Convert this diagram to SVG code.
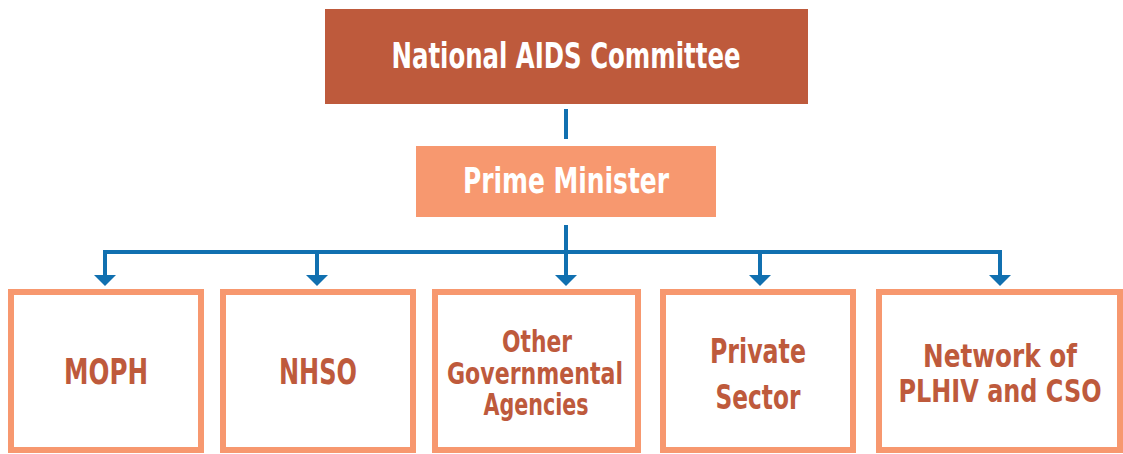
<svg xmlns="http://www.w3.org/2000/svg" width="1123" height="454" viewBox="0 0 1123 454">
<style>
.t{font-family:"DejaVu Sans Condensed","DejaVu Sans","Liberation Sans",sans-serif;font-weight:bold;text-anchor:middle}
.w{fill:#ffffff}
.r{fill:#BE5A3C}
.box{fill:#ffffff;stroke:#F7986F;stroke-width:6}
.ln{fill:none;stroke:#1170B0;stroke-width:4}
.ah{fill:#1170B0}
</style>
<g id="connectors">
<line class="ln" x1="566" y1="109" x2="566" y2="139"/>
<line class="ln" x1="566" y1="225" x2="566" y2="252"/>
<polyline class="ln" points="105,276 105,252 1000,252 1000,276"/>
<line class="ln" x1="317" y1="252" x2="317" y2="276"/>
<line class="ln" x1="566" y1="252" x2="566" y2="276"/>
<line class="ln" x1="760" y1="252" x2="760" y2="276"/>
<path class="ah" d="M94,275 L116,275 L105,286 Z"/>
<path class="ah" d="M306,275 L328,275 L317,286 Z"/>
<path class="ah" d="M555,275 L577,275 L566,286 Z"/>
<path class="ah" d="M749,275 L771,275 L760,286 Z"/>
<path class="ah" d="M989,275 L1011,275 L1000,286 Z"/>
</g>
<g id="nac">
<rect x="325" y="9" width="483" height="95" fill="#BE5A3C"/>
<text class="t w" x="566" y="68" font-size="36" textLength="349" lengthAdjust="spacingAndGlyphs">National AIDS Committee</text>
</g>
<g id="pm">
<rect x="416" y="146" width="300" height="71" fill="#F7986F"/>
<text class="t w" x="566" y="193" font-size="35" textLength="206" lengthAdjust="spacingAndGlyphs">Prime Minister</text>
</g>
<g id="moph">
<rect class="box" x="11" y="292" width="190" height="158"/>
<text class="t r" x="106" y="384" font-size="35" textLength="84" lengthAdjust="spacingAndGlyphs">MOPH</text>
</g>
<g id="nhso">
<rect class="box" x="223" y="292" width="190" height="158"/>
<text class="t r" x="318" y="384" font-size="35" textLength="78" lengthAdjust="spacingAndGlyphs">NHSO</text>
</g>
<g id="oga">
<rect class="box" x="435" y="292" width="203" height="158"/>
<text class="t r" x="537" y="352" font-size="31" textLength="70" lengthAdjust="spacingAndGlyphs">Other</text>
<text class="t r" x="535" y="384" font-size="31" textLength="176" lengthAdjust="spacingAndGlyphs">Governmental</text>
<text class="t r" x="536" y="415" font-size="31" textLength="105" lengthAdjust="spacingAndGlyphs">Agencies</text>
</g>
<g id="private">
<rect class="box" x="663" y="292" width="190" height="158"/>
<text class="t r" x="758" y="363" font-size="33" textLength="96" lengthAdjust="spacingAndGlyphs">Private</text>
<text class="t r" x="758" y="409" font-size="33" textLength="85" lengthAdjust="spacingAndGlyphs">Sector</text>
</g>
<g id="network">
<rect class="box" x="879" y="292" width="241" height="158"/>
<text class="t r" x="1000" y="367" font-size="32" textLength="154" lengthAdjust="spacingAndGlyphs">Network of</text>
<text class="t r" x="1000" y="402" font-size="32" textLength="203" lengthAdjust="spacingAndGlyphs">PLHIV and CSO</text>
</g>
</svg>
